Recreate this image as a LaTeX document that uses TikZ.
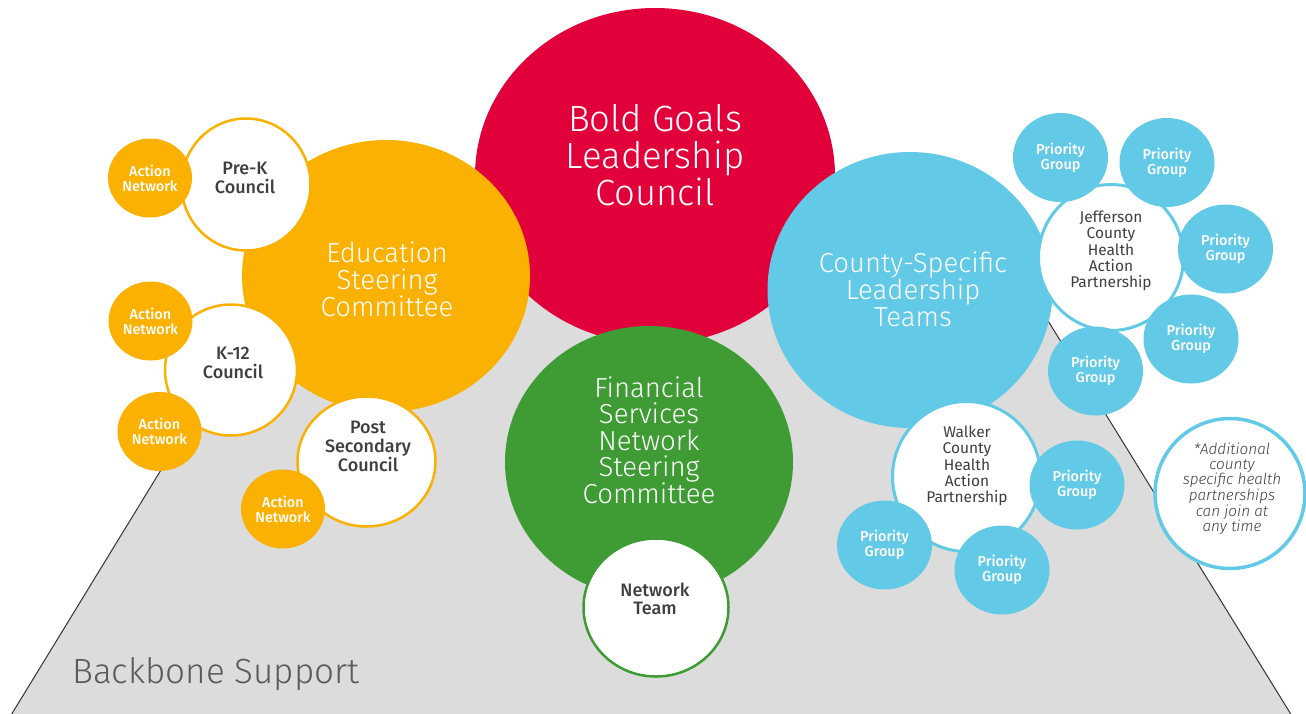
\documentclass[tikz,border=0pt]{standalone}
\usepackage{fontspec}
\setmainfont{Fira Sans}
\newfontfamily\lightfont{Fira Sans Light}
\newfontfamily\medfont{Fira Sans Medium}
\usetikzlibrary{shapes.geometric}
\definecolor{cred}{HTML}{E1003A}
\definecolor{corange}{HTML}{FBB101}
\definecolor{cgreen}{HTML}{3F9C35}
\definecolor{cblue}{HTML}{62CAE6}
\definecolor{cgray}{HTML}{DCDCDC}
\definecolor{ctext}{HTML}{3F3F3F}
\definecolor{cbase}{HTML}{5A5A5A}
\tikzset{
  ell/.style 2 args={ellipse, inner sep=0pt, outer sep=0pt, minimum width=#1, minimum height=#2},
  bigtxt/.style={text=white, align=center, inner sep=0pt, font=\lightfont\fontsize{27.5}{27}\selectfont},
  redtxt/.style={text=white, align=center, inner sep=0pt, font=\lightfont\fontsize{36.5}{37}\selectfont},
  counciltxt/.style={text=ctext, align=center, inner sep=0pt, font=\medfont\fontsize{18}{19}\selectfont},
  healthtxt/.style={text=ctext, align=center, inner sep=0pt, font=\fontsize{15.5}{16.2}\selectfont},
  notetxt/.style={text=ctext, align=center, inner sep=0pt, font=\lightfont\itshape\fontsize{15.3}{14.6}\selectfont},
  smalltxt/.style={text=white, align=center, font=\medfont\fontsize{14.4}{14.8}\selectfont},
  orangewhite/.style={fill=white, draw=corange, line width=2.5pt},
  bluewhite/.style={fill=white, draw=cblue, line width=3pt},
  greenwhite/.style={fill=white, draw=cgreen, line width=2.5pt},
  actionnet/.style={ell={84}{79}, fill=corange, smalltxt},
  prioritygrp/.style={ell={95}{89}, fill=cblue, smalltxt},
  baseedge/.style={draw=black!80, line width=1pt}
}
\begin{document}
\begin{tikzpicture}[x=1pt, y=-1pt]
\useasboundingbox (0,0) rectangle (1306,713);
% backbone base
\coordinate (bl) at (10.5,716);
\coordinate (tl) at (271,290);
\coordinate (tr) at (1029,290);
\coordinate (br) at (1292,716);
\fill[cgray] (bl) -- (tl) -- (tr) -- (br) -- cycle;
\draw[baseedge] (bl) -- (tl);
\draw[baseedge] (br) -- (tr);
\node[anchor=base west, inner sep=0pt, text=cbase, font=\lightfont\fontsize{35}{36}\selectfont] (backbone) at (72,683) {Backbone Support};

% main circles
\node[ell={360}{336}, fill=cred] (bold) at (655,176) {};
\node[redtxt] (boldt) at (655,155) {Bold Goals\\Leadership\\Council};

\node[ell={288}{272}, fill=corange] (edu) at (386,276) {};
\node[bigtxt] (edut) at (387,279) {Education\\Steering\\Committee};

\node[ell={288}{272}, fill=cgreen] (fin) at (649,462) {};
\node[bigtxt, font=\lightfont\fontsize{27.5}{26.5}\selectfont] (fint) at (649,440) {Financial\\Services\\Network\\Steering\\Committee};

\node[ell={285}{276}, fill=cblue] (county) at (910,290) {};
\node[bigtxt] (countyt) at (913,289) {County-Specific\\Leadership\\Teams};

% education councils
\node[ell={129}{132}, orangewhite] (prek) at (246,184.5) {};
\node[counciltxt] (prekt) at (245,178) {Pre-K\\Council};
\node[ell={132}{131}, orangewhite] (k12) at (231,370) {};
\node[counciltxt] (k12t) at (233,363) {K-12\\Council};
\node[ell={138}{130}, orangewhite] (post) at (366.5,461.5) {};
\node[counciltxt] (postt) at (368,446) {Post\\Secondary\\Council};

\node[actionnet] (an1) at (150,178) {Action\\Network};
\node[actionnet] (an2) at (150.5,321) {Action\\Network};
\node[actionnet] (an3) at (159.5,431.5) {Action\\Network};
\node[actionnet] (an4) at (283,509) {Action\\Network};

% network team
\node[ell={145}{138}, greenwhite] (team) at (656,607.5) {};
\node[counciltxt, font=\medfont\fontsize{18}{18.5}\selectfont] (teamt) at (655,599) {Network\\Team};

% county partnerships
\node[ell={145}{146}, bluewhite] (jeff) at (1111,257.5) {};
\node[healthtxt] (jefft) at (1111,251) {Jefferson\\County\\Health\\Action\\Partnership};
\node[ell={148}{150}, bluewhite] (walker) at (966.5,476.5) {};
\node[healthtxt] (walkert) at (967,466) {Walker\\County\\Health\\Action\\Partnership};
\node[ell={150}{150}, fill=white, draw=cblue, line width=3.5pt] (note) at (1230,493.5) {};
\node[notetxt] (notet) at (1232,489) {*Additional\\county\\specific health\\partnerships\\can join at\\any time};

\node[prioritygrp] (pg1) at (1060.5,157.5) {Priority\\Group};
\node[prioritygrp] (pg2) at (1167,162.5) {Priority\\Group};
\node[prioritygrp] (pg3) at (1225.5,249) {Priority\\Group};
\node[prioritygrp] (pg4) at (1191,339) {Priority\\Group};
\node[prioritygrp] (pg5) at (1095.5,371) {Priority\\Group};
\node[prioritygrp] (pgw1) at (1077,485) {Priority\\Group};
\node[prioritygrp] (pgw2) at (884.5,545) {Priority\\Group};
\node[prioritygrp] (pgw3) at (1002,570) {Priority\\Group};
\end{tikzpicture}
\end{document}
